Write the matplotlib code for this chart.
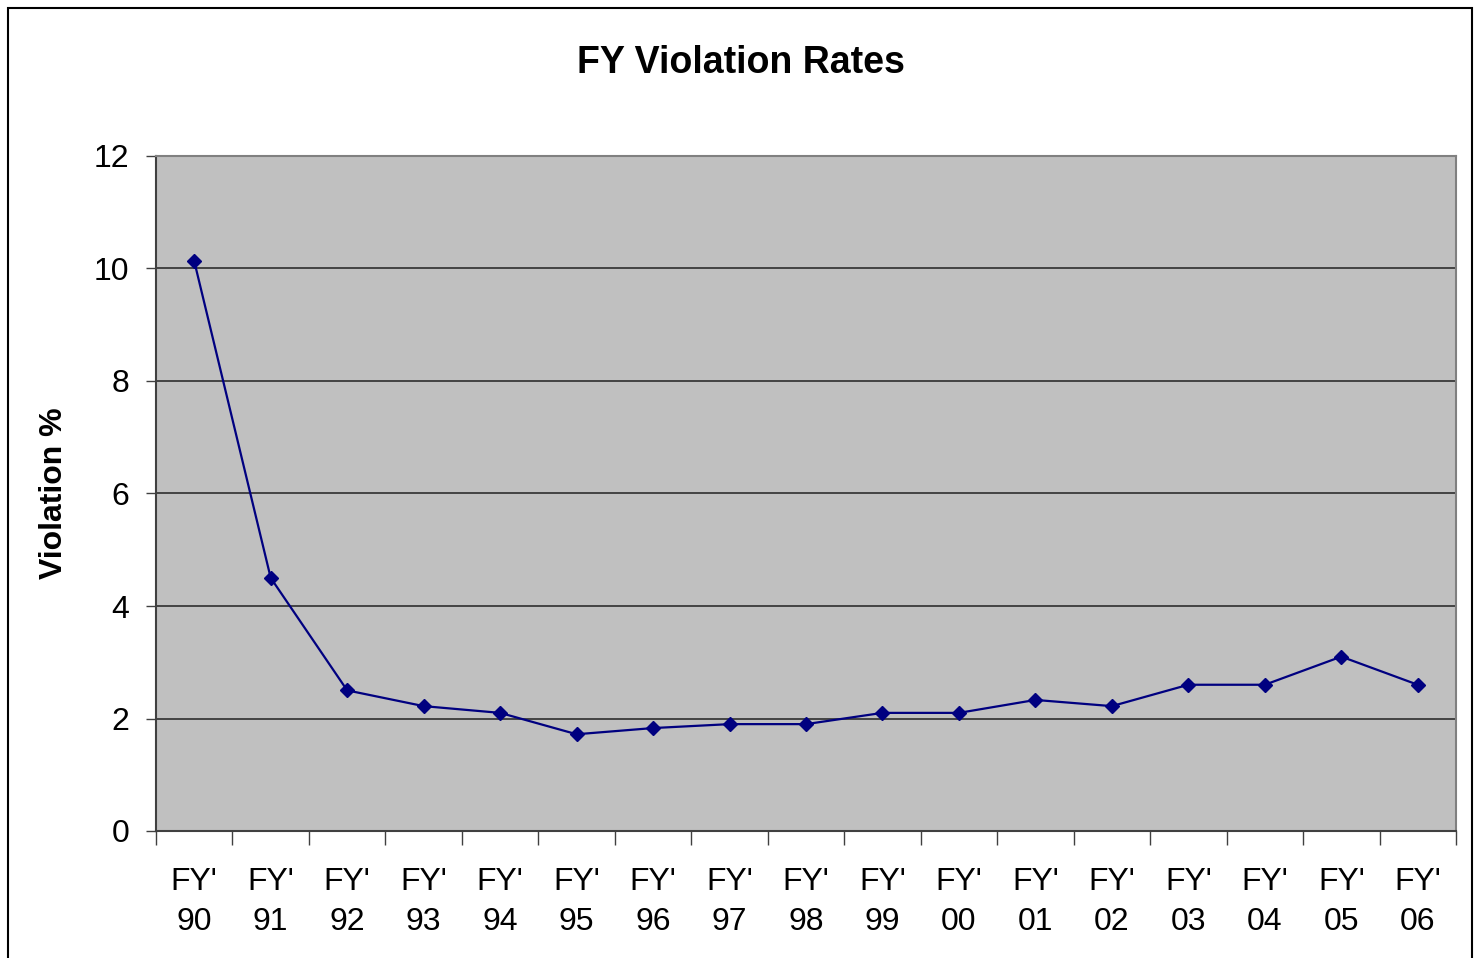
import matplotlib
matplotlib.use("Agg")
import matplotlib.pyplot as plt
from matplotlib.patches import Rectangle
import numpy as np

# Data
years = ["90", "91", "92", "93", "94", "95", "96", "97", "98",
         "99", "00", "01", "02", "03", "04", "05", "06"]
rates = [10.13, 4.5, 2.5, 2.22, 2.1, 1.72, 1.83, 1.9, 1.9,
         2.1, 2.1, 2.33, 2.22, 2.6, 2.6, 3.1, 2.6]
y_ticks = [0, 2, 4, 6, 8, 10, 12]

plt.rcParams["font.family"] = ["Liberation Sans", "DejaVu Sans"]

fig = plt.figure(figsize=(14.8, 9.58), dpi=100)
ax = fig.add_axes([156 / 1480, 1 - 831 / 958, 1300 / 1480, 675 / 958])
ax.set_facecolor("#c0c0c0")

x = np.arange(len(years))
ax.plot(x, rates, color="#000080", lw=1.6, marker="D", markersize=7.5,
        markerfacecolor="#000080", markeredgecolor="#000080", zorder=3)

# axes limits and ticks
ax.set_xlim(-0.5, len(years) - 0.5)
ax.set_ylim(0, 12)
ax.set_yticks(y_ticks)
ax.set_yticklabels([str(v) for v in y_ticks], fontsize=23)
ax.set_xticks(x)
ax.set_xticklabels([f"FY'\n{y}" for y in years], fontsize=23, linespacing=1.42)
ax.tick_params(axis="x", length=0, pad=26)
ax.set_xticks(np.arange(-0.5, len(years)), minor=True)
ax.tick_params(axis="x", which="minor", length=10, width=1, color="#404040", direction="out")
ax.tick_params(axis="y", length=7, width=1, color="#404040", direction="out", pad=12)

# gridlines
for v in y_ticks[1:-1]:
    ax.axhline(v, color="#222222", lw=1.1, zorder=1)

ax.spines["left"].set_color("#404040")
ax.spines["bottom"].set_color("#404040")
ax.spines["left"].set_linewidth(1.5)
ax.spines["bottom"].set_linewidth(1.5)
ax.spines["top"].set_color("#808080")
ax.spines["right"].set_color("#808080")
ax.spines["top"].set_linewidth(1.5)
ax.spines["right"].set_linewidth(1.5)

ax.set_ylabel("Violation %", fontsize=23, fontweight="bold", labelpad=18)
fig.text(741 / 1480, 1 - 63 / 958, "FY Violation Rates", fontsize=27,
         fontweight="bold", ha="center", va="center")

# outer chart frame
fig.patches.append(Rectangle((8 / 1480, -0.02), 1464 / 1480, 1 - 8 / 958 + 0.02,
                             transform=fig.transFigure, fill=False,
                             edgecolor="black", lw=1.5))

fig.savefig("out.png", dpi=100)
